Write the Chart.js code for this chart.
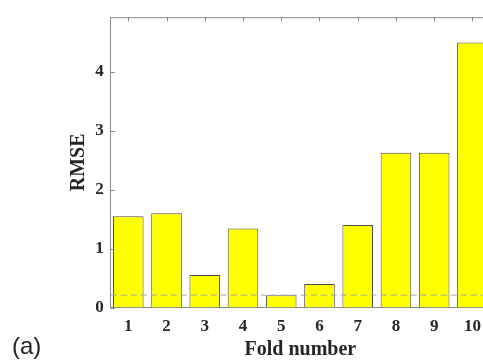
<!DOCTYPE html>
<html>
<head>
<meta charset="utf-8">
<script src="https://cdn.jsdelivr.net/npm/chart.js@4/dist/chart.umd.min.js"></script>
<style>
    html, body { margin: 0; padding: 0; background: #fff; overflow: hidden; }
    #wrap { position: relative; width: 500px; height: 361px; }
    #rmseChart { display: block; }
    #panel {
        position: absolute; left: 12px; top: 332px;
        font-family: "Liberation Sans", "Noto Sans", sans-serif;
        font-size: 24px; color: #222;
    }
</style>
</head>
<body>
<div id="wrap">
    <canvas id="rmseChart" width="500" height="361"></canvas>
    <div id="panel">(a)</div>
</div>
<script>
// RMSE per cross-validation fold
const folds = [1, 2, 3, 4, 5, 6, 7, 8, 9, 10];
const rmse = [1.55, 1.60, 0.55, 1.34, 0.21, 0.40, 1.40, 2.63, 2.63, 4.50];
const threshold = 0.21;
const yTicks = [0, 1, 2, 3, 4];

const axisGray = '#8a8a8a';
const textColor = '#262626';
const tickFont = { family: '"Liberation Serif", "Times New Roman", serif', size: 17, weight: 'bold' };
const titleFont = { family: '"Liberation Serif", "Times New Roman", serif', size: 20, weight: 'bold', lineHeight: 1.1 };

// MATLAB-style box: top edge plus short inward tick marks
const boxTicks = {
    id: 'boxTicks',
    afterDatasetsDraw(chart) {
        const { ctx, chartArea: a, scales: { x, y } } = chart;
        ctx.save();
        ctx.strokeStyle = axisGray;
        ctx.lineWidth = 1;
        ctx.beginPath();
        ctx.moveTo(a.left, a.top + 0.5);
        ctx.lineTo(a.right, a.top + 0.5);
        yTicks.forEach(v => {
            const py = Math.round(y.getPixelForValue(v)) + 0.5;
            ctx.moveTo(a.left, py);
            ctx.lineTo(a.left + 4, py);
        });
        folds.forEach(v => {
            const px = Math.round(x.getPixelForValue(v)) + 0.5;
            ctx.moveTo(px, a.top);
            ctx.lineTo(px, a.top + 4);
        });
        ctx.stroke();
        ctx.restore();
    }
};

new Chart(document.getElementById('rmseChart'), {
    data: {
        datasets: [{
            type: 'line',
            data: [{ x: 0.54, y: threshold }, { x: 10.46, y: threshold }],
            borderColor: '#a6a6a6',
            borderWidth: 1,
            borderDash: [6, 4],
            pointRadius: 0,
            order: 0
        }, {
            type: 'bar',
            data: folds.map((f, i) => ({ x: f, y: rmse[i] })),
            backgroundColor: '#ffff00',
            borderColor: '#4d4d4d',
            borderWidth: 1,
            categoryPercentage: 1.0,
            barPercentage: 0.8,
            order: 1
        }]
    },
    options: {
        responsive: false,
        animation: false,
        layout: { padding: { left: 68, right: 10, top: 17, bottom: 0 } },
        plugins: { legend: { display: false }, tooltip: { enabled: false } },
        scales: {
            x: {
                type: 'linear',
                offset: false,
                min: 0.54,
                max: 10.46,
                afterBuildTicks: s => { s.ticks = folds.map(v => ({ value: v })); },
                afterFit: s => { s.height = 53.5; },
                grid: { display: false, drawTicks: false },
                border: { color: axisGray },
                ticks: { font: tickFont, color: textColor, padding: 9, maxRotation: 0 },
                title: { display: true, text: 'Fold number', font: titleFont, color: textColor, padding: 0 }
            },
            y: {
                min: 0,
                max: 4.93,
                afterBuildTicks: s => { s.ticks = yTicks.map(v => ({ value: v })); },
                afterFit: s => { s.width = 42.7; },
                grid: { display: false, drawTicks: false },
                border: { color: axisGray },
                ticks: { font: tickFont, color: textColor, padding: 7 },
                title: { display: true, text: 'RMSE', font: titleFont, color: textColor, padding: 0 }
            }
        }
    },
    plugins: [boxTicks]
});
</script>
</body>
</html>
